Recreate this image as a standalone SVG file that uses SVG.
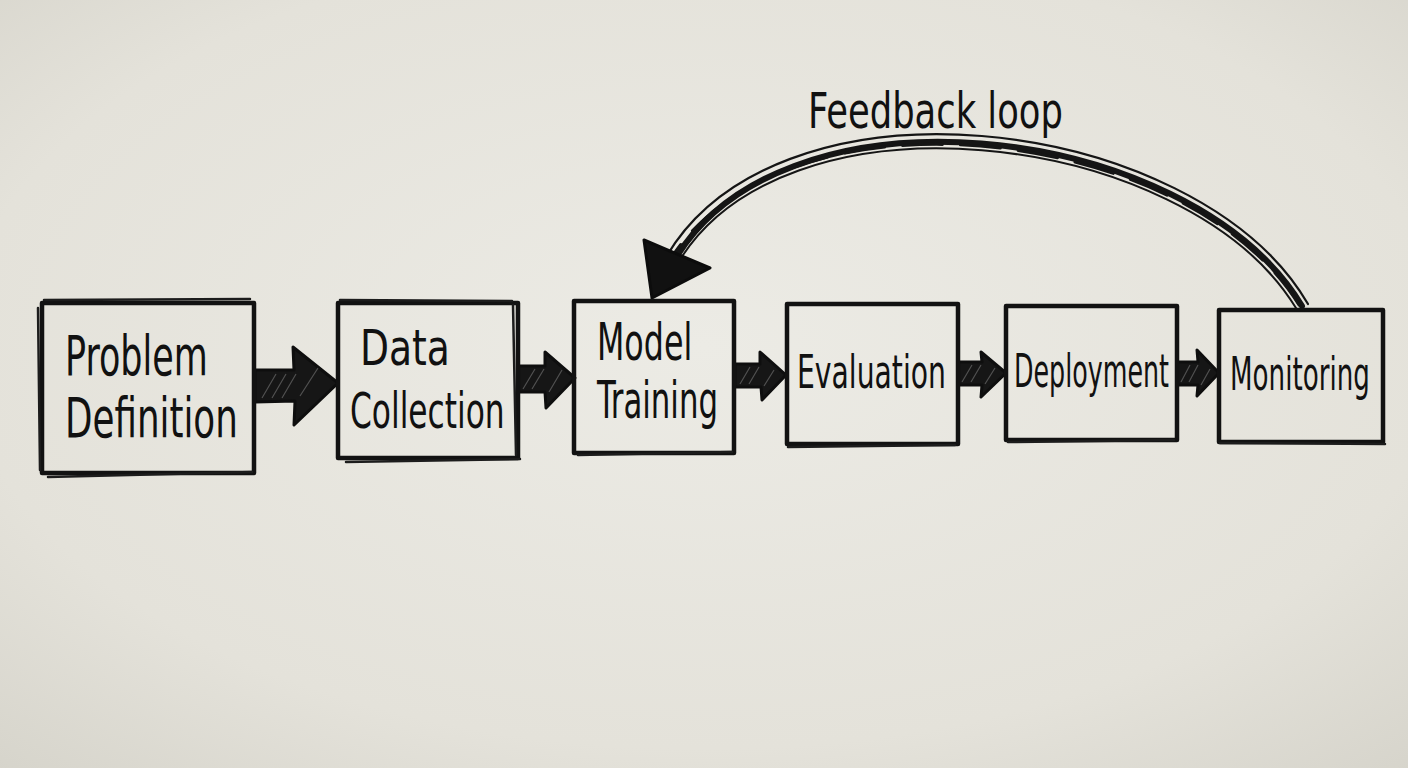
<svg xmlns="http://www.w3.org/2000/svg" width="1408" height="768" viewBox="0 0 1408 768">
  <defs>
    <radialGradient id="board" cx="50%" cy="45%" r="75%">
      <stop offset="0" stop-color="#ecebe5"/>
      <stop offset="0.7" stop-color="#e4e2da"/>
      <stop offset="1" stop-color="#d6d4cb"/>
    </radialGradient>
    <style>
      .box { fill: none; stroke: #121212; stroke-width: 4.5; stroke-linejoin: round; stroke-linecap: round; }
      .box2 { fill: none; stroke: #1c1c1c; stroke-width: 2.5; stroke-linecap: round; }
      .lbl { font-family: "DejaVu Sans Condensed", "DejaVu Sans", sans-serif; fill: #111; }
      .big { font-size: 55px; }
      .mid { font-size: 46px; }
      .blk { fill: #161616; stroke: #0e0e0e; stroke-width: 3; stroke-linejoin: round; }
      .hatch { stroke: #6a6a6a; stroke-width: 1.2; fill: none; opacity: 0.7; }
      .arc { fill: none; stroke: #151515; stroke-linecap: round; }
    </style>
  </defs>

  <rect x="0" y="0" width="1408" height="768" fill="url(#board)"/>

  <g id="connectors">
    <!-- Problem Definition -> Data Collection -->
    <polygon class="blk" points="255,370 294,370 293,347 338,383 294,425 295,401 255,402"/>
    <path class="hatch" d="M262,398 L276,374 M272,398 L286,374 M282,398 L296,374 M300,396 L318,368"/>
    <!-- Data Collection -> Model Training -->
    <polygon class="blk" points="518,366 545,366 545,352 575,378 546,408 545,392 518,392"/>
    <path class="hatch" d="M523,389 L535,369 M532,389 L544,369 M549,392 L562,370"/>
    <!-- Model Training -> Evaluation -->
    <polygon class="blk" points="735,364 760,364 760,352 786,375 762,400 761,387 735,387"/>
    <path class="hatch" d="M740,384 L750,367 M749,384 L759,367 M764,386 L774,370"/>
    <!-- Evaluation -> Deployment -->
    <polygon class="blk" points="958,362 982,362 981,352 1006,373 981,397 982,385 958,385"/>
    <path class="hatch" d="M962,382 L972,365 M971,382 L981,365 M985,384 L995,368"/>
    <!-- Deployment -> Monitoring -->
    <polygon class="blk" points="1177,362 1198,362 1197,350 1219,373 1197,396 1198,385 1177,385"/>
    <path class="hatch" d="M1181,382 L1190,365 M1189,382 L1198,365 M1201,385 L1210,369"/>

    <!-- Feedback loop arc: Monitoring -> Model Training -->
    <path class="arc" stroke-width="6" d="M1302,306 C1190,120 770,70 668,272"/>
    <path class="arc" stroke-width="2.2" stroke="#2a2a2a" d="M1308,304 C1196,112 766,60 660,268"/>
    <path class="arc" stroke-width="2" stroke="#333" d="M1296,308 C1186,128 776,80 674,270"/>
    <path class="arc" stroke-width="3" stroke="#222" stroke-dasharray="40 18" d="M1299,305 C1188,124 772,74 664,270"/>
    <polygon fill="#111" stroke="#0c0c0c" stroke-width="3" stroke-linejoin="round" points="644,240 710,268 652,298"/>
  </g>

  <g id="feedback-label">
    <text class="lbl" font-size="50" transform="translate(808,128) scale(0.72,1)" textLength="354" lengthAdjust="spacingAndGlyphs">Feedback loop</text>
  </g>

  <g id="problem-definition">
    <rect class="box" x="42" y="303" width="212" height="170"/>
    <path class="box2" d="M44,300 L250,299 M48,477 L252,472 M38,308 L40,470"/>
    <text class="lbl big" transform="translate(65,375) scale(0.70,1)" textLength="204" lengthAdjust="spacingAndGlyphs">Problem</text>
    <text class="lbl big" transform="translate(65,437) scale(0.72,1)" textLength="240" lengthAdjust="spacingAndGlyphs">Definition</text>
  </g>

  <g id="data-collection">
    <rect class="box" x="338" y="303" width="180" height="155"/>
    <path class="box2" d="M340,300 L512,301 M346,462 L520,459 M513,305 L516,455"/>
    <text class="lbl" font-size="50" transform="translate(360,365) scale(0.84,1)" textLength="107" lengthAdjust="spacingAndGlyphs">Data</text>
    <text class="lbl" font-size="50" transform="translate(350,428) scale(0.70,1)" textLength="221" lengthAdjust="spacingAndGlyphs">Collection</text>
  </g>

  <g id="model-training">
    <rect class="box" x="574" y="301" width="160" height="152"/>
    <path class="box2" d="M578,455 L732,452"/>
    <text class="lbl" font-size="51" transform="translate(597,360) scale(0.69,1)" textLength="138" lengthAdjust="spacingAndGlyphs">Model</text>
    <text class="lbl" font-size="51" transform="translate(597,418) scale(0.64,1)" textLength="189" lengthAdjust="spacingAndGlyphs">Training</text>
  </g>

  <g id="evaluation">
    <rect class="box" x="787" y="304" width="171" height="140"/>
    <path class="box2" d="M788,447 L955,445"/>
    <text class="lbl mid" transform="translate(797,388) scale(0.68,1)" textLength="219" lengthAdjust="spacingAndGlyphs">Evaluation</text>
  </g>

  <g id="deployment">
    <rect class="box" x="1006" y="306" width="171" height="134"/>
    <path class="box2" d="M1008,442 L1174,440"/>
    <text class="lbl mid" transform="translate(1014,387) scale(0.62,1)" textLength="250" lengthAdjust="spacingAndGlyphs">Deployment</text>
  </g>

  <g id="monitoring">
    <rect class="box" x="1219" y="310" width="164" height="132"/>
    <path class="box2" d="M1220,443 L1385,444"/>
    <text class="lbl mid" transform="translate(1230,390) scale(0.63,1)" textLength="222" lengthAdjust="spacingAndGlyphs">Monitoring</text>
  </g>
</svg>
